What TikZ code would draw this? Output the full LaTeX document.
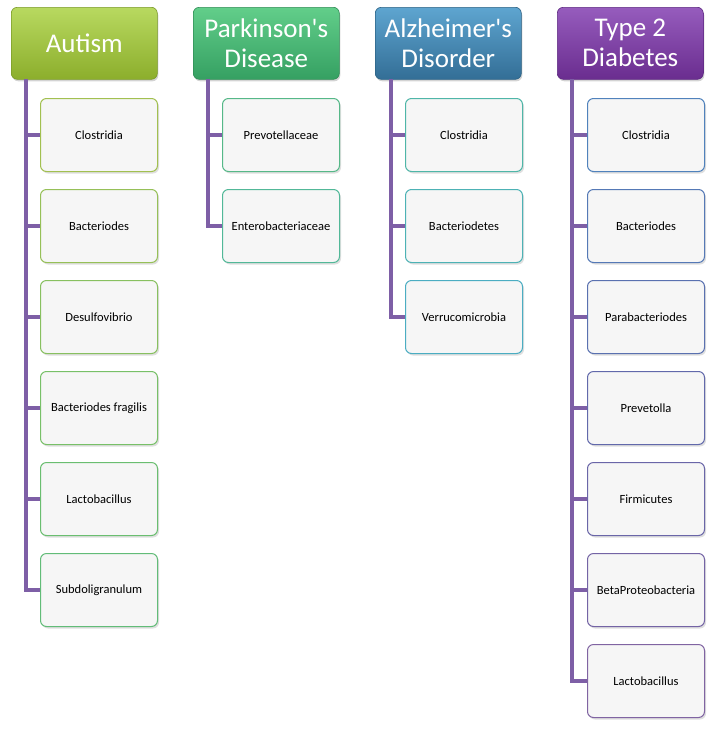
\documentclass[tikz,border=0pt]{standalone}
\usepackage{fontspec}
\setmainfont{Carlito}[Ligatures=TeXOff]
\usetikzlibrary{shadows}
\definecolor{spine}{HTML}{7E5FA6}
\definecolor{auT}{HTML}{B8D960}\definecolor{auB}{HTML}{8CAE2C}\definecolor{auD}{HTML}{7A9A28}
\definecolor{paT}{HTML}{62CE8A}\definecolor{paB}{HTML}{35A062}\definecolor{paD}{HTML}{2F8C55}
\definecolor{alT}{HTML}{5EA5D0}\definecolor{alB}{HTML}{336E96}\definecolor{alD}{HTML}{2C6284}
\definecolor{tyT}{HTML}{965CBD}\definecolor{tyB}{HTML}{6A2D8F}\definecolor{tyD}{HTML}{5C2880}
\definecolor{itemfill}{HTML}{F6F6F6}
\begin{document}
\begin{tikzpicture}[x=1pt,y=-1pt,
  hdr/.style={anchor=north west, minimum width=146pt, minimum height=72pt, inner sep=2pt,
    rounded corners=6pt, line width=0.6pt, text=white, align=center,
    font=\fontsize{27}{30}\selectfont,
    drop shadow={shadow xshift=1pt, shadow yshift=-2pt, opacity=0.35}},
  item/.style={anchor=north west, minimum width=117pt, minimum height=73pt, inner sep=2pt,
    rounded corners=6pt, line width=1pt, fill=itemfill, text=black,
    font=\fontsize{12.5}{14}\selectfont,
    drop shadow={shadow xshift=1.5pt, shadow yshift=-2pt, opacity=0.25}},
  conn/.style={line width=3.5pt, draw=spine, line cap=butt, line join=miter}]
\useasboundingbox (0,0) rectangle (714,732);

% Autism
\node[hdr, top color=auT, bottom color=auB, draw=auD] (h1) at (11,7) {Autism};
\coordinate (s1) at (26,79);
\foreach \t/\c [count=\i from 0] in {Clostridia/A2C050, Bacteriodes/96C058, Desulfovibrio/88C060, Bacteriodes fragilis/78C068, Lactobacillus/6ABE70, Subdoligranulum/62BC78}{
  \definecolor{bc}{HTML}{\c}
  \node[item, draw=bc] (a\i) at (40,98+91*\i) {\t};
}
\draw[conn] (s1) |- (a5.west);
\foreach \i in {0,...,4}{\draw[conn] (s1 |- a\i.west) -- (a\i.west);}

% Parkinson's
\node[hdr, top color=paT, bottom color=paB, draw=paD] (h2) at (193,7) {Parkinson's\\Disease};
\coordinate (s2) at (208,79);
\foreach \t/\c [count=\i from 0] in {Prevotellaceae/56B888, Enterobacteriaceae/52B898}{
  \definecolor{bc}{HTML}{\c}
  \node[item, draw=bc] (p\i) at (222,98+91*\i) {\t};
}
\draw[conn] (s2) |- (p1.west);
\draw[conn] (s2 |- p0.west) -- (p0.west);

% Alzheimer's
\node[hdr, top color=alT, bottom color=alB, draw=alD] (h3) at (375,7) {Alzheimer's\\Disorder};
\coordinate (s3) at (391,79);
\foreach \t/\c [count=\i from 0] in {Clostridia/4FB6A8, Bacteriodetes/4DB2B5, Verrucomicrobia/4BADC2}{
  \definecolor{bc}{HTML}{\c}
  \node[item, draw=bc] (z\i) at (405,98+91*\i) {\t};
}
\draw[conn] (s3) |- (z2.west);
\foreach \i in {0,1}{\draw[conn] (s3 |- z\i.west) -- (z\i.west);}

% Type 2 Diabetes
\node[hdr, top color=tyT, bottom color=tyB, draw=tyD] (h4) at (557,7) {Type 2\\Diabetes};
\coordinate (s4) at (572,79);
\foreach \t/\c [count=\i from 0] in {Clostridia/5082BC, Bacteriodes/5579B6, Parabacteriodes/5A71B0, Prevetolla/6269AB, Firmicutes/6A66A8, BetaProteobacteria/7464A5, Lactobacillus/8064A2}{
  \definecolor{bc}{HTML}{\c}
  \node[item, draw=bc] (t\i) at (587,98+91*\i) {\t};
}
\draw[conn] (s4) |- (t6.west);
\foreach \i in {0,...,5}{\draw[conn] (s4 |- t\i.west) -- (t\i.west);}
\end{tikzpicture}
\end{document}
